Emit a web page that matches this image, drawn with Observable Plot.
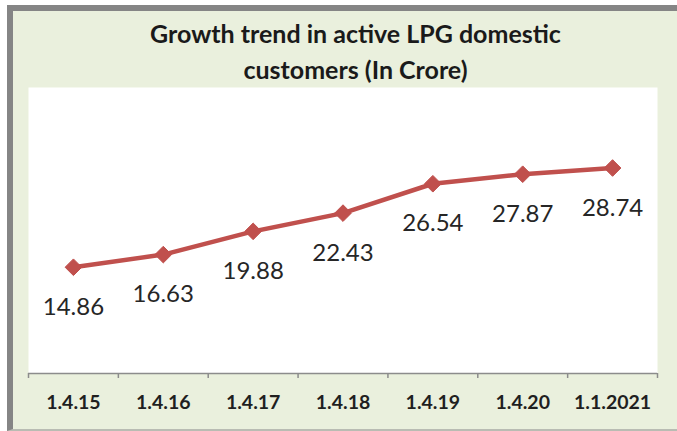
<!DOCTYPE html>
<html>
<head>
<meta charset="utf-8">
<script src="https://cdn.jsdelivr.net/npm/d3@7"></script>
<script src="https://cdn.jsdelivr.net/npm/@observablehq/plot@0.6"></script>
<style>
  html, body { margin: 0; padding: 0; background: #ffffff; }
  #wrap { position: relative; width: 677px; height: 431px; overflow: hidden; font-family: Lato, "Open Sans", sans-serif; }
  #frame { position: absolute; left: 7px; top: 5px; width: 664px; height: 418px;
           border-top: 6px solid #858585; border-left: 6px solid #858585;
           border-right: 1px solid #d4d8cb; border-bottom: 2px solid #b9bcb3;
           background: #EAF0DD; }
  #title { position: absolute; left: 17px; width: 677px; top: 15px; text-align: center;
           font-weight: 700; font-size: 25px; line-height: 36px; color: #1a1a1a; }
  #chart { position: absolute; left: 0; top: 0; }
</style>
</head>
<body>
<div id="wrap">
  <div id="frame"></div>
  <div id="title">Growth trend in active LPG domestic<br>customers (In Crore)</div>
  <div id="chart"></div>
</div>
<script>
const categories = ["1.4.15", "1.4.16", "1.4.17", "1.4.18", "1.4.19", "1.4.20", "1.1.2021"];
const customers = [14.86, 16.63, 19.88, 22.43, 26.54, 27.87, 28.74];
const yDomain = [0, 40];

const data = categories.map((c, i) => ({i, c, v: customers[i]}));
const centers = categories.map((c, i) => i);
const boundaries = d3.range(-0.5, categories.length, 1);

const chart = Plot.plot({
  width: 677,
  height: 431,
  marginLeft: 28,
  marginRight: 20,
  marginTop: 87,
  marginBottom: 58,
  style: {background: "transparent", fontFamily: "Lato, 'Open Sans', sans-serif"},
  x: {type: "linear", domain: [-0.5, categories.length - 0.5], label: null},
  y: {domain: yDomain, axis: null},
  marks: [
    Plot.frame({fill: "white"}),
    Plot.ruleY([0], {stroke: "#8c8c8c", strokeWidth: 1.5}),
    Plot.axisX({ticks: boundaries, tickFormat: () => "", tickSize: 5, stroke: "#8c8c8c", strokeWidth: 1.5, label: null}),
    Plot.axisX({ticks: centers, tickFormat: i => categories[i], tickSize: 0, tickPadding: 22,
                fontSize: 19.5, fontWeight: 700, fill: "#1f1f1f", label: null}),
    Plot.line(data, {x: "i", y: "v", stroke: "#C0504D", strokeWidth: 4.5, strokeLinejoin: "round"}),
    Plot.dot(data, {x: "i", y: "v", symbol: "diamond2", r: 7.5, fill: "#C0504D", stroke: "#C0504D", strokeWidth: 1}),
    Plot.text(data, {x: "i", y: "v", text: d => d.v.toFixed(2), dy: 40, fontSize: 24, fill: "#262626"})
  ]
});
document.getElementById("chart").appendChild(chart);
</script>
</body>
</html>
